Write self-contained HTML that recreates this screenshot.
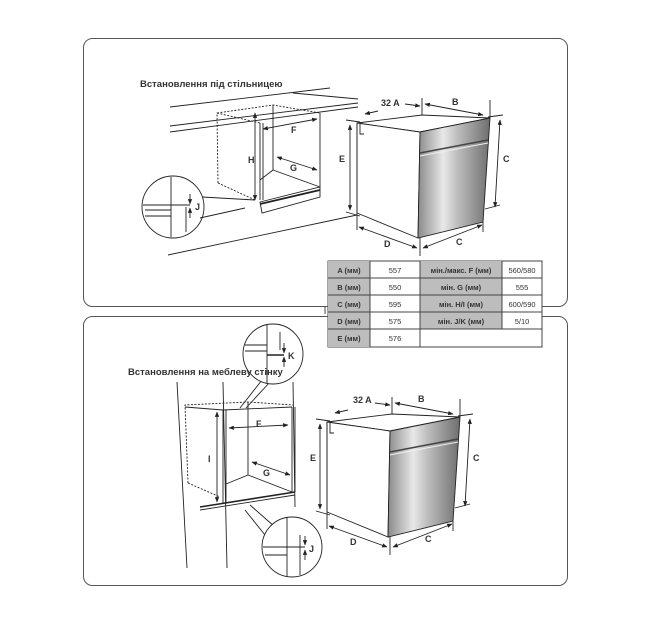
<!DOCTYPE html>
<html><head><meta charset="utf-8"><style>
html,body{margin:0;padding:0;background:#fff;}
body{width:656px;height:638px;position:relative;overflow:hidden;font-family:"Liberation Sans",sans-serif;}
svg{position:absolute;left:0;top:0;}
text{font-family:"Liberation Sans",sans-serif;font-weight:bold;fill:#333;}
</style></head><body>
<svg width="656" height="638" viewBox="0 0 656 638">
<defs>
<marker id="a" viewBox="0 0 10 10" refX="9" refY="5" markerWidth="6" markerHeight="6" orient="auto-start-reverse"><path d="M0,1 L10,5 L0,9z" fill="#222"/></marker>
<linearGradient id="g" x1="0" x2="1" y1="0" y2="0"><stop offset="0" stop-color="#8a8a8a"/><stop offset="0.35" stop-color="#e8e8e8"/><stop offset="0.55" stop-color="#bdbdbd"/><stop offset="1" stop-color="#6e6e6e"/></linearGradient>
<g id="oven" stroke="#222" stroke-width="0.9" fill="none">
<polygon points="357,123 422,115 490,118 420,132" fill="#fff"/>
<polygon points="357,123 420,132 418,238 357,213" fill="#fff"/>
<polygon points="420,132 490,118 483,222 418,238" fill="url(#g)"/>
<line x1="420" y1="153" x2="488" y2="140" stroke="#444" stroke-width="1.5"/>
<line x1="420" y1="156" x2="488" y2="143" stroke="#eee" stroke-width="1"/>
<path d="M360,124 v10 h4"/>
<line x1="357" y1="123" x2="357" y2="230"/>
<line x1="420" y1="238" x2="420" y2="256"/>
<line x1="483" y1="222" x2="483" y2="232"/>
<line x1="490" y1="100" x2="490" y2="118"/>
<line x1="422" y1="98" x2="422" y2="115"/>
<line x1="346" y1="120" x2="360" y2="122"/>
<line x1="346" y1="212" x2="360" y2="216"/>
<line x1="488" y1="117" x2="503" y2="115"/>
<line x1="485" y1="209" x2="500" y2="205"/>
<line x1="350" y1="125" x2="350" y2="210" marker-start="url(#a)" marker-end="url(#a)"/>
<line x1="500" y1="120" x2="495" y2="207" marker-start="url(#a)" marker-end="url(#a)"/>
<line x1="359" y1="227" x2="417" y2="248" marker-start="url(#a)" marker-end="url(#a)"/>
<line x1="423" y1="248" x2="482" y2="225" marker-start="url(#a)" marker-end="url(#a)"/>
<line x1="365" y1="114" x2="378" y2="111" marker-start="url(#a)"/>
<line x1="405" y1="104" x2="420" y2="106" marker-end="url(#a)"/>
<line x1="425" y1="104" x2="483" y2="115" marker-start="url(#a)" marker-end="url(#a)"/>
</g>
</defs>
<!-- panels -->
<rect x="83.5" y="38.5" width="484" height="268" rx="9" fill="none" stroke="#555" stroke-width="1"/>
<rect x="83.5" y="316.5" width="484" height="269" rx="9" fill="none" stroke="#555" stroke-width="1"/>

<text x="140" y="87" font-size="9.5">Встановлення під стільницею</text>
<!-- top cabinet -->
<g stroke="#222" stroke-width="0.9" fill="none">
<line x1="170" y1="107" x2="330" y2="88"/><line x1="293" y1="93" x2="358" y2="99"/>
<line x1="170" y1="126" x2="358" y2="103"/>
<line x1="170" y1="132" x2="358" y2="107"/>
<line x1="168" y1="255" x2="357" y2="215"/>
<g stroke-dasharray="2,1.5"><polyline points="218,183 217,113 273,105 320,113"/><line x1="218" y1="183" x2="255" y2="200"/><line x1="217" y1="113" x2="260" y2="123"/></g>
<line x1="260" y1="123" x2="260" y2="200"/><line x1="263" y1="123" x2="263" y2="200"/>
<line x1="320" y1="113" x2="320" y2="187"/>
<line x1="273" y1="105" x2="273" y2="170"/>
<line x1="260" y1="180" x2="273" y2="170"/><line x1="273" y1="170" x2="320" y2="187"/>
<polygon points="260,202 320,187 320,197 262,213" fill="#fff"/>
<line x1="260" y1="204" x2="320" y2="190" stroke-width="1.8"/>
<line x1="255" y1="113" x2="255" y2="200" marker-start="url(#a)" marker-end="url(#a)"/>
<line x1="263" y1="129" x2="317" y2="119" marker-start="url(#a)" marker-end="url(#a)"/>
<line x1="277" y1="157" x2="317" y2="170" marker-start="url(#a)" marker-end="url(#a)"/>
<circle cx="173" cy="207" r="31" fill="#fff"/>
<line x1="202" y1="197" x2="255" y2="200"/><line x1="200" y1="218" x2="245" y2="208"/>
<line x1="171" y1="177" x2="171" y2="237"/><line x1="186" y1="207" x2="186" y2="232"/>
<line x1="143" y1="205" x2="190" y2="205"/><line x1="145" y1="210" x2="171" y2="210"/><line x1="145" y1="216" x2="171" y2="216"/>
<line x1="190" y1="194" x2="190" y2="204" marker-end="url(#a)"/><line x1="190" y1="218" x2="190" y2="208" marker-end="url(#a)"/>
</g>
<text x="248" y="163" font-size="9">H</text>
<text x="291" y="133" font-size="9">F</text>
<text x="290" y="171" font-size="9">G</text>
<text x="195" y="210" font-size="9">J</text>

<use href="#oven"/>
<text x="381" y="106" font-size="9">32 A</text><text x="452" y="105" font-size="9">B</text>
<text x="339" y="162" font-size="9">E</text><text x="503" y="162" font-size="9">C</text>
<text x="384" y="247" font-size="9">D</text><text x="456" y="245" font-size="9">C</text>

<!-- bottom cabinet -->
<g stroke="#222" stroke-width="0.9" fill="none">
<line x1="177" y1="382" x2="187" y2="568"/><line x1="223" y1="382" x2="227" y2="568"/>
<line x1="293" y1="382" x2="295" y2="507"/>
<g stroke-dasharray="2,1.5"><polyline points="188,483 185,405 248,402 293,405"/><line x1="188" y1="483" x2="220" y2="497"/></g>
<line x1="185" y1="407" x2="223" y2="410"/>
<line x1="223" y1="410" x2="292" y2="407"/>
<line x1="223" y1="410" x2="223" y2="503"/><line x1="226" y1="410" x2="226" y2="503"/>
<line x1="292" y1="407" x2="292" y2="492"/><line x1="295" y1="407" x2="295" y2="492"/>
<line x1="248" y1="402" x2="248" y2="475"/>
<line x1="226" y1="484" x2="248" y2="475"/><line x1="248" y1="475" x2="292" y2="492"/>
<line x1="200" y1="507" x2="295" y2="492" stroke-width="1.6"/><line x1="200" y1="510" x2="295" y2="495"/>
<line x1="217" y1="412" x2="217" y2="502" marker-start="url(#a)" marker-end="url(#a)"/>
<line x1="229" y1="428" x2="288" y2="425" marker-start="url(#a)" marker-end="url(#a)"/>
<line x1="252" y1="462" x2="290" y2="475" marker-start="url(#a)" marker-end="url(#a)"/>
<line x1="240" y1="408" x2="262" y2="380"/><line x1="246" y1="408" x2="270" y2="382"/>
<circle cx="273" cy="354" r="30" fill="#fff"/>
<line x1="267" y1="325" x2="267" y2="384"/><line x1="280" y1="332" x2="280" y2="350"/>
<line x1="245" y1="345" x2="267" y2="345"/><line x1="245" y1="351" x2="267" y2="351"/><line x1="267" y1="355" x2="284" y2="355" stroke-width="1.5"/>
<line x1="284" y1="343" x2="284" y2="353" marker-end="url(#a)"/><line x1="284" y1="367" x2="284" y2="357" marker-end="url(#a)"/>
<line x1="250" y1="505" x2="275" y2="527"/><line x1="245" y1="510" x2="265" y2="535"/>
<circle cx="292" cy="547" r="30" fill="#fff"/>
<line x1="287" y1="517" x2="287" y2="577"/><line x1="300" y1="535" x2="300" y2="575"/>
<line x1="263" y1="547" x2="305" y2="547"/><line x1="265" y1="555" x2="287" y2="555"/>
<line x1="305" y1="536" x2="305" y2="545" marker-end="url(#a)"/><line x1="305" y1="560" x2="305" y2="550" marker-end="url(#a)"/>
</g>
<text x="128" y="375" font-size="9.5">Встановлення на меблеву стінку</text>
<text x="288" y="359" font-size="9">K</text>
<text x="309" y="552" font-size="9">J</text>
<text x="208" y="462" font-size="9">I</text>
<text x="256" y="427" font-size="9">F</text>
<text x="263" y="476" font-size="9">G</text>

<g transform="translate(-30,299)"><use href="#oven"/></g>
<text x="353" y="403" font-size="9">32 A</text><text x="418" y="402" font-size="9">B</text>
<text x="310" y="461" font-size="9">E</text><text x="473" y="461" font-size="9">C</text>
<text x="350" y="545" font-size="9">D</text><text x="425" y="542" font-size="9">C</text>

<!-- table -->
<g font-size="7.5">
<rect x="328" y="261" width="214" height="86" fill="#fff" stroke="#444"/>
<rect x="328" y="261" width="42" height="86" fill="#bdbdbd"/>
<rect x="420" y="261" width="82" height="68" fill="#bdbdbd"/>
<g stroke="#444" stroke-width="1">
<line x1="328" y1="278" x2="542" y2="278"/><line x1="328" y1="295" x2="542" y2="295"/>
<line x1="328" y1="312" x2="542" y2="312"/><line x1="328" y1="329" x2="542" y2="329"/>
<line x1="370" y1="261" x2="370" y2="347"/><line x1="420" y1="261" x2="420" y2="347"/>
<line x1="502" y1="261" x2="502" y2="329"/>
</g>
<g text-anchor="middle">
<text x="349" y="273">A (мм)</text><text x="349" y="290">B (мм)</text><text x="349" y="307">C (мм)</text><text x="349" y="324">D (мм)</text><text x="349" y="341">E (мм)</text>
<text x="461" y="273">мін./макс. F (мм)</text><text x="461" y="290">мін. G (мм)</text><text x="461" y="307">мін. H/I (мм)</text><text x="461" y="324">мін. J/K (мм)</text>
</g>
<g text-anchor="middle">
<text x="395" y="273" style="font-weight:normal">557</text><text x="395" y="290" style="font-weight:normal">550</text><text x="395" y="307" style="font-weight:normal">595</text><text x="395" y="324" style="font-weight:normal">575</text><text x="395" y="341" style="font-weight:normal">576</text>
<text x="522" y="273" style="font-weight:normal">560/580</text><text x="522" y="290" style="font-weight:normal">555</text><text x="522" y="307" style="font-weight:normal">600/590</text><text x="522" y="324" style="font-weight:normal">5/10</text>
</g>
</g>
<line x1="325" y1="306" x2="325" y2="314" stroke="#444" stroke-width="1"/>
</svg>
</body></html>
